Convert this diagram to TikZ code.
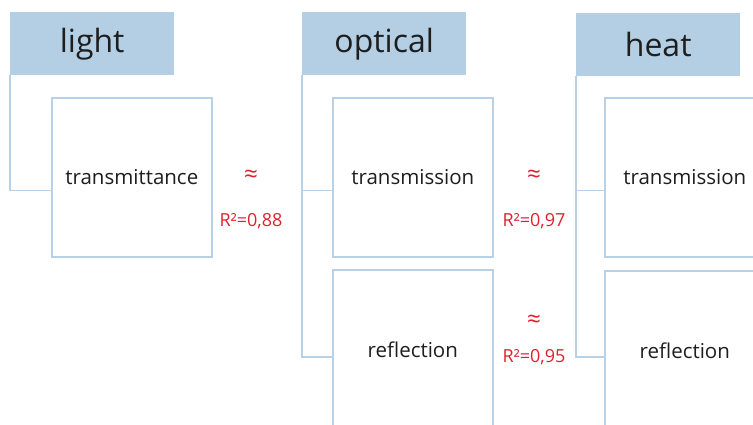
\documentclass[tikz,border=0pt]{standalone}
\usepackage{fontspec}
\setmainfont{Open Sans}
\definecolor{hdr}{HTML}{B4CFE4}
\definecolor{ln}{HTML}{B8D1E6}
\definecolor{txt}{HTML}{1E1E1E}
\definecolor{rd}{HTML}{E0202E}
\tikzset{
  header/.style={fill=hdr, draw=none, anchor=north west, minimum width=164pt, minimum height=63pt, inner sep=0pt, font=\fontsize{32}{32}\selectfont, text=txt},
  itembox/.style={draw=ln, line width=1.6pt, fill=white, anchor=north west, minimum width=160pt, minimum height=159pt, inner sep=0pt, font=\fontsize{20.5}{20.5}\selectfont, text=txt},
  conn/.style={draw=ln, line width=1.6pt},
  rel/.style={text=rd, font=\fontsize{18}{18}\selectfont, inner sep=0pt},
  approx/.style={rel, font=\fontsize{24}{24}\selectfont}
}
\begin{document}
\begin{tikzpicture}[x=1pt,y=-1pt]
\useasboundingbox (0,0) rectangle (753,424);
\clip (0,0) rectangle (753,424);
% headers
\node[header] (lh) at (10,12) {light};
\node[header] (oh) at (302,12) {optical};
\node[header] (hh) at (576,13) {heat};
% boxes
\node[itembox] (lt) at (51,97) {transmittance};
\node[itembox] (ot) at (332,97) {transmission};
\node[itembox] (or) at (332,269) {reflection};
\node[itembox] (ht) at (604,97) {transmission};
\node[itembox] (hr) at (604,270) {reflection};
% connectors
\draw[conn] (lh.south west) |- ([yshift=-13pt]lt.west);
\draw[conn] (oh.south west) |- ([yshift=-13pt]ot.west);
\draw[conn] (oh.south west) |- ([yshift=-7.5pt]or.west);
\draw[conn] (hh.south west) |- ([yshift=-13pt]ht.west);
\draw[conn] (hh.south west) |- ([yshift=-6.5pt]hr.west);
% relations
\node[approx] (a1) at (251,176) {≈};
\node[rel] (r1) at (251,221) {R²=0,88};
\node[approx] (a2) at (534,176) {≈};
\node[rel] (r2) at (534,221) {R²=0,97};
\node[approx] (a3) at (534,321) {≈};
\node[rel] (r3) at (534,357) {R²=0,95};
\end{tikzpicture}
\end{document}
